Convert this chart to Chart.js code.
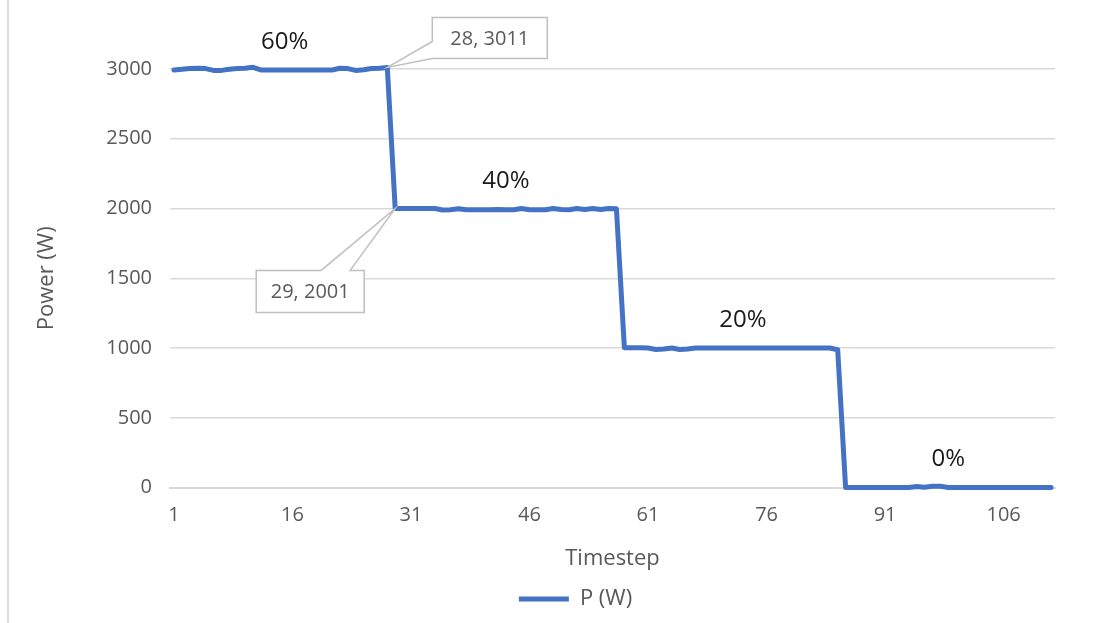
<!DOCTYPE html>
<html>
<head>
<meta charset="utf-8">
<title>P (W)</title>
<script src="https://cdn.jsdelivr.net/npm/chart.js@4.4.0/dist/chart.umd.min.js"></script>
<style>
    body { margin: 0; background: #fff; }
    #wrap { position: relative; width: 1097px; height: 623px; }
    #wrap::before { content: ''; position: absolute; left: 7px; top: 0; bottom: 0; border-left: 2px solid #d9d9d9; }
</style>
</head>
<body>
<div id="wrap"><canvas id="myChart"></canvas></div>
<script>
const FONT = '"Open Sans", "Noto Sans", sans-serif';
const GREY = '#595959';

// timestep categories 1..112
const timesteps = Array.from({ length: 112 }, (_, i) => i + 1);

// measured power per timestep, one block per load level
const power60 = [2993, 2998, 3003, 3005, 3003, 2990, 2990, 2998, 3003, 3005, 3012, 2993, 2992, 2992,
    2993, 2992, 2992, 2992, 2993, 2992, 2993, 3005, 3003, 2990, 2995, 3003, 3005, 3011];
const power40 = [2001, 2001, 2000, 2001, 2000, 2000, 1990, 1991, 1998, 1991, 1992, 1992, 1992, 1993,
    1992, 1992, 2000, 1992, 1991, 1992, 2000, 1993, 1992, 2000, 1993, 2000, 1993, 2000, 1998];
const power20 = [1003, 1002, 1002, 1000, 990, 993, 1000, 990, 993, 1001, 1001, 1001, 1001, 1001,
    1001, 1001, 1001, 1001, 1001, 1001, 1001, 1001, 1001, 1001, 1001, 1000, 1000, 988];
const power0 = [0, 0, 0, 0, 0, 0, 0, 0, 0, 8, 3, 10, 9, 1, 0, 0, 0, 0, 0, 0, 0, 0, 0, 0, 0, 0, 0];
const power = [...power60, ...power40, ...power20, ...power0];

// load level labels and the timestep they sit above
const levelText = ['60%', '40%', '20%', '0%'];
const levelStep = [15, 43, 73, 99];

// timesteps that get a value callout
const dropTop = 28;
const dropBottom = 29;

const levelLabels = {
    id: 'levelLabels',
    afterLayout(chart) {
        // legend sits a bit right of the canvas centre
        chart.legend.left += 38;
        chart.legend.right += 38;
    },
    afterDatasetsDraw(chart) {
        const ctx = chart.ctx;
        const pts = chart.getDatasetMeta(0).data;
        ctx.save();

        ctx.font = '24px ' + FONT;
        ctx.fillStyle = '#1a1a1a';
        ctx.textAlign = 'center';
        ctx.textBaseline = 'bottom';
        levelStep.forEach((step, k) => {
            const p = pts[timesteps.indexOf(step)];
            ctx.fillText(levelText[k], p.x, p.y - 16);
        });

        ctx.strokeStyle = '#bfbfbf';
        ctx.lineWidth = 1.5;
        ctx.fillStyle = '#fff';
        ctx.font = '20px ' + FONT;
        ctx.textBaseline = 'middle';

        // box up and right of the top corner, pointer on its left side
        let i = timesteps.indexOf(dropTop);
        let p = pts[i];
        let L = p.x + 45, T = p.y - 50, R = L + 115, B = T + 41;
        ctx.beginPath();
        ctx.moveTo(L, T); ctx.lineTo(R, T); ctx.lineTo(R, B); ctx.lineTo(L, B);
        ctx.lineTo(p.x, p.y); ctx.lineTo(L, T + 24); ctx.closePath();
        ctx.fill(); ctx.stroke();
        ctx.fillStyle = GREY;
        ctx.fillText(timesteps[i] + ', ' + power[i], (L + R) / 2, (T + B) / 2 + 1);

        // box down and left of the bottom corner, pointer on its top side
        i = timesteps.indexOf(dropBottom);
        p = pts[i];
        L = p.x - 139; T = p.y + 62; R = L + 108; B = T + 42;
        ctx.fillStyle = '#fff';
        ctx.beginPath();
        ctx.moveTo(L, T); ctx.lineTo(p.x - 74, T); ctx.lineTo(p.x, p.y); ctx.lineTo(p.x - 45, T);
        ctx.lineTo(R, T); ctx.lineTo(R, B); ctx.lineTo(L, B); ctx.closePath();
        ctx.fill(); ctx.stroke();
        ctx.fillStyle = GREY;
        ctx.fillText(timesteps[i] + ', ' + power[i], (L + R) / 2, (T + B) / 2 + 1);

        ctx.restore();
    }
};

const ctx = document.getElementById('myChart');
const chart = new Chart(ctx, {
    type: 'line',
    data: {
        labels: timesteps,
        datasets: [{
            label: 'P (W)',
            data: power,
            borderColor: '#4472c4',
            backgroundColor: '#4472c4',
            borderWidth: 5,
            borderCapStyle: 'round',
            borderJoinStyle: 'round',
            pointRadius: 0,
            tension: 0,
            clip: false
        }]
    },
    options: {
        responsive: true,
        maintainAspectRatio: false,
        animation: false,
        layout: { padding: { left: 20, right: 42, top: 69, bottom: 3 } },
        plugins: {
            legend: {
                position: 'bottom',
                labels: {
                    usePointStyle: true,
                    pointStyle: 'line',
                    pointStyleWidth: 50,
                    color: GREY,
                    font: { size: 22, family: FONT }
                }
            },
            tooltip: { enabled: false }
        },
        scales: {
            x: {
                offset: true,
                grid: { display: false },
                border: { display: true, color: '#d9d9d9', width: 2 },
                ticks: {
                    autoSkip: false,
                    maxRotation: 0,
                    padding: 8,
                    color: GREY,
                    font: { size: 20, family: FONT },
                    callback: (v, i) => i % 15 === 0 ? timesteps[i] : ''
                },
                title: {
                    display: true,
                    text: 'Timestep',
                    color: GREY,
                    font: { size: 22, family: FONT },
                    padding: { top: 10, bottom: 6 }
                }
            },
            y: {
                min: 0,
                max: 3000,
                afterFit: s => { s.width = 150; },
                grid: { color: '#d9d9d9', lineWidth: 1.5, drawTicks: false },
                border: { display: false },
                ticks: {
                    stepSize: 500,
                    padding: 18,
                    color: GREY,
                    font: { size: 20, family: FONT },
                    callback: v => String(v)
                },
                title: {
                    display: true,
                    text: 'Power (W)',
                    color: GREY,
                    font: { size: 22, family: FONT },
                    padding: { top: 14, bottom: 0 }
                }
            }
        }
    },
    plugins: [levelLabels]
});
</script>
</body>
</html>
